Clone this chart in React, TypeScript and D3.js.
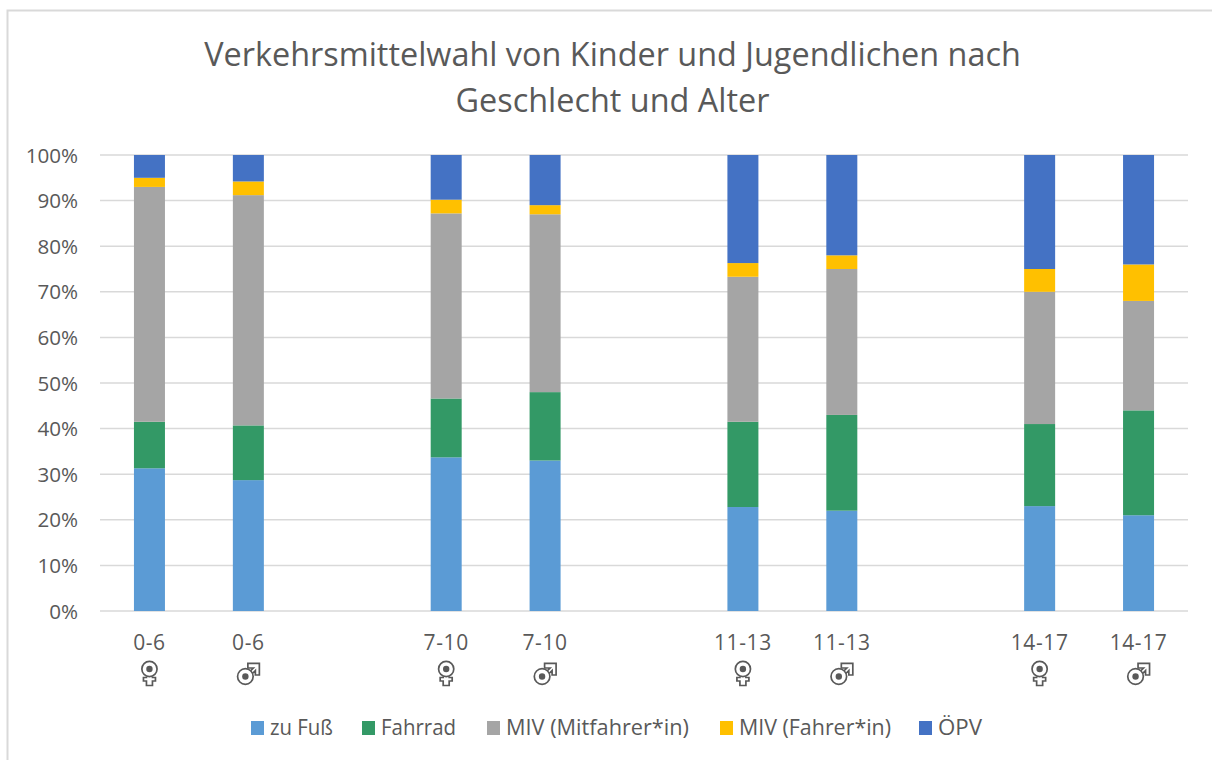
import React from "react";
import * as d3 from "d3";

const categories = ["0-6|f", "0-6|m", "gap1", "7-10|f", "7-10|m", "gap2", "11-13|f", "11-13|m", "gap3", "14-17|f", "14-17|m"];
const barCategories = categories.filter((c) => !c.startsWith("gap"));
const seriesNames = ["zu Fuß", "Fahrrad", "MIV (Mitfahrer*in)", "MIV (Fahrer*in)", "ÖPV"];
const seriesColors = ["#5B9BD5", "#339966", "#A5A5A5", "#FFC000", "#4472C4"];
const zuFuss = [31.3, 28.7, 33.7, 33, 22.8, 22, 23, 21];
const fahrrad = [10.2, 12, 12.9, 15, 18.7, 21, 18, 23];
const mitfahrer = [51.5, 50.5, 40.6, 39, 31.8, 32, 29, 24];
const fahrer = [2, 3, 3, 2, 3, 3, 5, 8];
const oepv = [5, 5.8, 9.8, 11, 23.7, 22, 25, 24];
const yTicks = [0, 10, 20, 30, 40, 50, 60, 70, 80, 90, 100];
const legendX = [251, 362, 487, 720, 919];
const legendWidths = [63, 75, 183, 152, 44];

const FONT = "'Open Sans', 'Noto Sans', sans-serif";
const TEXT = "#595959";

const x = d3.scaleBand().domain(categories).range([100, 1188]).paddingInner(0).paddingOuter(0);
const y = d3.scaleLinear().domain([0, 100]).range([611, 155]);
const columns = [zuFuss, fahrrad, mitfahrer, fahrer, oepv];
const rows = barCategories.map((c, i) => {
  const r: any = { c };
  seriesNames.forEach((s, k) => (r[s] = columns[k][i]));
  return r;
});
const stacked = d3.stack().keys(seriesNames)(rows);
const barW = 31;

function Gender({ kind, cx }: { kind: string; cx: number }) {
  const col = TEXT;
  if (kind === "f") {
    return (
      <g transform={`translate(${cx},672)`} fill="none" stroke={col} strokeWidth={1.7}>
        <title>♀</title>
        <circle cx={0} cy={-3} r={7.6} />
        <circle cx={0} cy={-3} r={3.2} fill={col} stroke="none" />
        <path d="M-3,4.5 V5.5 H-6 V9 H-3 V13.5 H3 V9 H6 V5.5 H3 V4.5" />
      </g>
    );
  }
  return (
    <g transform={`translate(${cx},672)`} fill="none" stroke={col} strokeWidth={1.7}>
      <title>♂</title>
      <circle cx={-3} cy={4.5} r={7.8} />
      <circle cx={-3} cy={4.5} r={3.2} fill={col} stroke="none" />
      <path d="M2,-1 L5,-4 H-0.5 V-8.7 H11 V3 H7 V-1.5 L4,1.5" />
    </g>
  );
}

export default function App() {
  return (
    <svg width={1212} height={760} style={{ position: "absolute", left: 0, top: 0, background: "#fff" }} fontFamily={FONT}>
      <path d="M7.5,760 V10.5 H1212" fill="none" stroke="#D9D9D9" strokeWidth={2} />
      <text x={612.5} y={66} textAnchor="middle" fontSize={32.4} fill={TEXT}>Verkehrsmittelwahl von Kinder und Jugendlichen nach</text>
      <text x={612.5} y={112} textAnchor="middle" fontSize={32.4} fill={TEXT}>Geschlecht und Alter</text>
      {yTicks.map((t) => (
        <g key={t}>
          <line x1={100} x2={1188} y1={y(t)} y2={y(t)} stroke="#D9D9D9" strokeWidth={1.5} />
          <text x={78} y={y(t) + 7.5} textAnchor="end" fontSize={20.6} fill={TEXT}>{t}%</text>
        </g>
      ))}
      {stacked.map((layer, k) => (
        <g key={layer.key} fill={seriesColors[k]}>
          {layer.map((d, i) => {
            const c = barCategories[i];
            const cx = x(c)! + x.bandwidth() / 2;
            return <rect key={c} x={cx - barW / 2} width={barW} y={y(d[1])} height={y(d[0]) - y(d[1])} />;
          })}
        </g>
      ))}
      {barCategories.map((c) => {
        const [label, g] = c.split("|");
        const cx = x(c)! + x.bandwidth() / 2;
        return (
          <g key={c}>
            <text x={cx} y={650} textAnchor="middle" fontSize={21} letterSpacing={0.6} fill={TEXT}>{label}</text>
            <Gender kind={g} cx={cx} />
          </g>
        );
      })}
      {seriesNames.map((s, k) => (
        <g key={s}>
          <rect x={legendX[k]} y={721} width={13} height={14} fill={seriesColors[k]} />
          <text x={legendX[k] + 19} y={735} fontSize={21} textLength={legendWidths[k]} lengthAdjust="spacingAndGlyphs" fill={TEXT}>{s}</text>
        </g>
      ))}
    </svg>
  );
}
